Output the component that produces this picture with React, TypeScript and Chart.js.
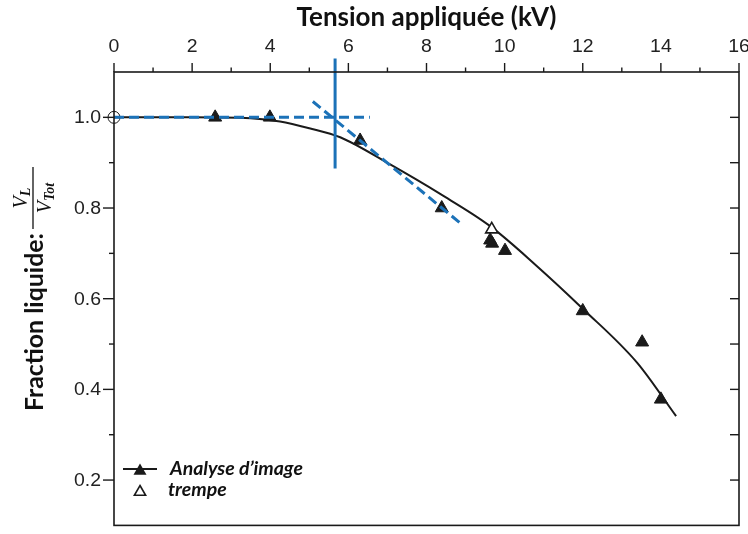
import React, { useEffect, useRef } from 'react';
import { Chart, registerables } from 'chart.js';

Chart.register(...registerables);

// ---- data ----
const curveX = [0, 2, 3.5, 4.25, 5.0, 5.79, 7.07, 8.35, 9.63, 10.8, 12.0, 13.39, 14.39];
const curveY = [1.0, 1.0, 0.998, 0.991, 0.976, 0.956, 0.896, 0.831, 0.76, 0.674, 0.578, 0.459, 0.341];

const imageX = [2.59, 3.99, 6.3, 8.39, 9.63, 9.68, 10.01, 12.0, 13.52, 14.0];
const imageY = [1.0, 1.0, 0.949, 0.8, 0.729, 0.722, 0.706, 0.573, 0.504, 0.378];

const trempeX = [9.67];
const trempeY = [0.753];

const originX = [0];
const originY = [1.0];

const hLineX = [0, 6.55];
const hLineY = [1.0, 1.0];
const diagX = [5.09, 8.86];
const diagY = [1.035, 0.767];
const vLineX = [5.66, 5.66];
const vLineY = [1.13, 0.887];

const xTickValues = [0, 2, 4, 6, 8, 10, 12, 14, 16];
const yTickValues = [0.2, 0.4, 0.6, 0.8, 1.0];

const xTitle = 'Tension appliquée (kV)';
const yTitle = 'Fraction liquide:';
const legendLabels = ['Analyse d’image', 'trempe'];

const BLUE = '#1c72b8';
const INK = '#1a1a1a';

const pts = (xs: number[], ys: number[]) => xs.map((v, i) => ({ x: v, y: ys[i] }));

function fitFont(ctx: CanvasRenderingContext2D, text: string, style: string, family: string, width: number) {
  ctx.font = `${style} 100px ${family}`;
  const w = ctx.measureText(text).width;
  return (100 * width) / w;
}

function triPath(ctx: CanvasRenderingContext2D, cx: number, cy: number, r: number) {
  ctx.beginPath();
  ctx.moveTo(cx, cy - r);
  ctx.lineTo(cx + Math.sin((2 * Math.PI) / 3) * r, cy - Math.cos((2 * Math.PI) / 3) * r);
  ctx.lineTo(cx + Math.sin((4 * Math.PI) / 3) * r, cy - Math.cos((4 * Math.PI) / 3) * r);
  ctx.closePath();
}

const decor = {
  id: 'decor',
  afterDraw(chart: any) {
    const { ctx, chartArea: ca } = chart;
    const xs = chart.scales.x;
    const ys = chart.scales.y;
    ctx.save();
    // frame
    ctx.strokeStyle = INK;
    ctx.lineWidth = 1.6;
    ctx.strokeRect(ca.left, ca.top, ca.right - ca.left, ca.bottom - ca.top);

    // top ticks
    ctx.lineWidth = 1.4;
    for (let k = 0; k <= 16; k++) {
      const px = xs.getPixelForValue(k);
      const len = k % 2 === 0 ? 9 : 4.5;
      ctx.beginPath();
      ctx.moveTo(px, ca.top);
      ctx.lineTo(px, ca.top - len);
      ctx.stroke();
    }
    // left and right ticks
    for (let k = 2; k <= 10; k++) {
      const py = ys.getPixelForValue(k / 10);
      const len = k % 2 === 0 ? 11 : 5;
      ctx.beginPath();
      ctx.moveTo(ca.left, py);
      ctx.lineTo(ca.left - len, py);
      ctx.stroke();
      ctx.beginPath();
      ctx.moveTo(ca.right, py);
      ctx.lineTo(ca.right - 9, py);
      ctx.stroke();
    }

    // tick labels
    ctx.fillStyle = '#222';
    ctx.font = '18px "Liberation Sans"';
    ctx.textBaseline = 'middle';
    const stretch = 1.08;
    ctx.textAlign = 'center';
    xTickValues.forEach((v) => {
      ctx.save();
      ctx.translate(xs.getPixelForValue(v), 47);
      ctx.scale(stretch, 1);
      ctx.fillText(String(v), 0, 0);
      ctx.restore();
    });
    ctx.textAlign = 'right';
    yTickValues.forEach((v) => {
      ctx.save();
      ctx.translate(101, ys.getPixelForValue(v) + 1);
      ctx.scale(stretch, 1);
      ctx.fillText(v.toFixed(1), 0, 0);
      ctx.restore();
    });

    // x title
    ctx.fillStyle = '#111';
    const tSize = fitFont(ctx, xTitle, 'bold', 'Lato', 260);
    ctx.font = `bold ${tSize}px Lato`;
    ctx.textAlign = 'center';
    ctx.textBaseline = 'middle';
    ctx.fillText(xTitle, (ca.left + ca.right) / 2, 18);

    // y title
    const ySize = fitFont(ctx, yTitle, 'bold', 'Lato', 178);
    ctx.save();
    ctx.translate(43, 411);
    ctx.rotate(-Math.PI / 2);
    ctx.font = `bold ${ySize}px Lato`;
    ctx.textAlign = 'left';
    ctx.textBaseline = 'alphabetic';
    ctx.fillText(yTitle, 0, 0);
    ctx.restore();

    // fraction V_L / V_Tot
    ctx.save();
    ctx.translate(33, 198);
    ctx.rotate(-Math.PI / 2);
    ctx.lineWidth = 1.3;
    ctx.strokeStyle = '#111';
    ctx.beginPath();
    ctx.moveTo(-31, 0);
    ctx.lineTo(31, 0);
    ctx.stroke();
    const big = 'italic 20px "Liberation Serif"';
    const small = 'italic bold 14px "Liberation Serif"';
    const drawFrac = (sub: string, base: number) => {
      ctx.font = big;
      const wV = ctx.measureText('V').width;
      ctx.font = small;
      const wS = ctx.measureText(sub).width;
      const total = wV + wS;
      const x0 = -total / 2;
      ctx.textAlign = 'left';
      ctx.textBaseline = 'alphabetic';
      ctx.font = big;
      ctx.fillText('V', x0, base);
      ctx.font = small;
      ctx.fillText(sub, x0 + wV, base + 3);
    };
    drawFrac('L', -6);
    drawFrac('Tot', 18);
    ctx.restore();

    // legend
    ctx.strokeStyle = INK;
    ctx.lineWidth = 2;
    ctx.beginPath();
    ctx.moveTo(123, 469);
    ctx.lineTo(157, 469);
    ctx.stroke();
    ctx.fillStyle = INK;
    triPath(ctx, 140, 471, 7.5);
    ctx.fill();
    ctx.lineWidth = 1.6;
    triPath(ctx, 140, 492, 6.5);
    ctx.fillStyle = '#fff';
    ctx.fill();
    ctx.stroke();
    const lSize = fitFont(ctx, legendLabels[0], 'italic bold', 'Lato', 133);
    ctx.font = `italic bold ${lSize}px Lato`;
    ctx.fillStyle = '#111';
    ctx.textAlign = 'left';
    ctx.textBaseline = 'middle';
    ctx.fillText(legendLabels[0], 170, 469);
    ctx.fillText(legendLabels[1], 168, 490);
    ctx.restore();
  },
};

export default function App() {
  const ref = useRef<HTMLCanvasElement | null>(null);
  useEffect(() => {
    if (!ref.current) return;
    const chart = new Chart(ref.current, {
      type: 'scatter',
      data: {
        datasets: [
          {
            label: 'vertical',
            data: pts(vLineX, vLineY),
            showLine: true,
            borderColor: BLUE,
            borderWidth: 3,
            pointRadius: 0,
            clip: false as any,
          },
          {
            label: 'horizontal',
            data: pts(hLineX, hLineY),
            showLine: true,
            borderColor: BLUE,
            borderWidth: 3,
            borderDash: [10, 5],
            pointRadius: 0,
            clip: false as any,
          },
          {
            label: 'diagonal',
            data: pts(diagX, diagY),
            showLine: true,
            borderColor: BLUE,
            borderWidth: 3,
            borderDash: [10, 5],
            pointRadius: 0,
            clip: false as any,
          },
          {
            label: 'trempe',
            data: pts(trempeX, trempeY),
            pointStyle: 'triangle',
            pointRadius: 7,
            pointBackgroundColor: '#fff',
            pointBorderColor: INK,
            pointBorderWidth: 1.6,
          },
          {
            label: 'Analyse d’image',
            data: pts(imageX, imageY),
            pointStyle: 'triangle',
            pointRadius: 7.5,
            pointBackgroundColor: INK,
            pointBorderColor: INK,
            pointBorderWidth: 1,
          },
          {
            label: 'origin',
            data: pts(originX, originY),
            pointStyle: 'circle',
            pointRadius: 6,
            pointBackgroundColor: 'rgba(0,0,0,0)',
            pointBorderColor: INK,
            pointBorderWidth: 1,
            clip: false as any,
          },
          {
            label: 'fit',
            data: pts(curveX, curveY),
            showLine: true,
            borderColor: INK,
            borderWidth: 2,
            pointRadius: 0,
            cubicInterpolationMode: 'monotone',
          },
        ],
      },
      options: {
        animation: false,
        responsive: false,
        maintainAspectRatio: false,
        layout: { padding: { left: 114, top: 72, right: 9, bottom: 1 } },
        plugins: { legend: { display: false }, tooltip: { enabled: false } },
        scales: {
          x: { type: 'linear', display: false, min: 0, max: 16 },
          y: { type: 'linear', display: false, min: 0.1, max: 1.1 },
        },
      },
      plugins: [decor],
    });
    return () => chart.destroy();
  }, []);
  return (
    <div style={{ position: 'fixed', left: 0, top: 0, width: 748, height: 534, background: '#fff' }}>
      <canvas ref={ref} width={748} height={534} style={{ width: 748, height: 534, display: 'block' }} />
    </div>
  );
}
